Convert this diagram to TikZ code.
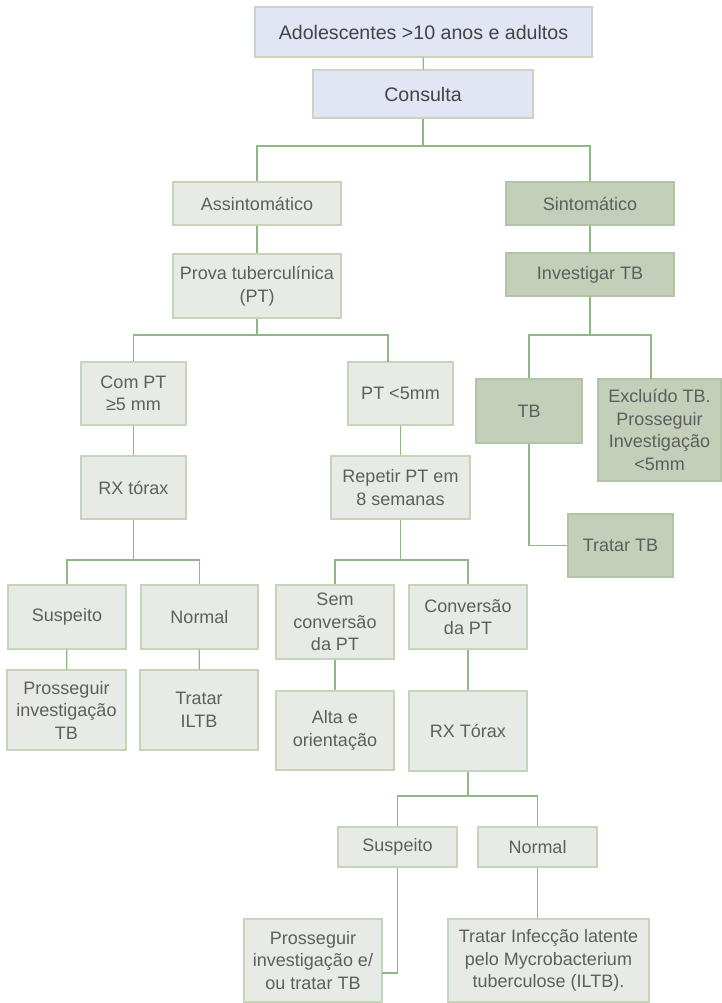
\documentclass[tikz,border=0pt]{standalone}
\usepackage{fontspec}
\setmainfont{Liberation Sans}
\usetikzlibrary{calc}
\definecolor{lavfill}{HTML}{E1E5F4}
\definecolor{lavline}{HTML}{C9D5BF}
\definecolor{palefill}{HTML}{E8EBE5}
\definecolor{paleline}{HTML}{C6D5BA}
\definecolor{sagefill}{HTML}{C3CFB8}
\definecolor{sageline}{HTML}{B3C3A5}
\definecolor{linkgreen}{HTML}{8FB884}
\definecolor{txtdark}{HTML}{444444}
\definecolor{txtgray}{HTML}{5E5E5E}
\begin{document}
\begin{tikzpicture}[x=1pt,y=-1pt,
  basebox/.style={draw, line width=1.3pt, inner sep=0pt, align=center,
    font=\fontsize{18}{22.5}\selectfont},
  topbox/.style={basebox, fill=lavfill, draw=lavline, text=txtdark,
    font=\fontsize{19.6}{23}\selectfont},
  palebox/.style={basebox, fill=palefill, draw=paleline, text=txtgray},
  sagebox/.style={basebox, fill=sagefill, draw=sageline, text=txtgray},
  link/.style={draw=linkgreen, line width=1.3pt}]
\fill[white] (0,0) rectangle (722,1003);
\useasboundingbox (0,0) rectangle (722,1003);

% top of the chart
\node[topbox, minimum width=337, minimum height=50] (adol) at (423.5,32) {Adolescentes >10 anos e adultos};
\node[topbox, minimum width=220, minimum height=48] (cons) at (423,94) {Consulta};

% first split
\node[palebox, minimum width=168, minimum height=43] (assin) at (257,203.5) {Assintomático};
\node[sagebox, minimum width=168, minimum height=43] (sint) at (590,203.5) {Sintomático};
\node[palebox, minimum width=168, minimum height=64] (prova) at (257,286) {Prova tuberculínica\\(PT)};
\node[sagebox, minimum width=168, minimum height=43] (invtb) at (590,274.5) {Investigar TB};

% symptomatic branch
\node[sagebox, minimum width=106, minimum height=64] (tb) at (529,411) {TB};
\node[sagebox, minimum width=123, minimum height=102] (excl) at (659.5,430) {Excluído TB.\\Prosseguir\\Investigação\\<5mm};
\node[sagebox, minimum width=105, minimum height=63] (tratatb) at (620.5,545.5) {Tratar TB};

% tuberculin test results
\node[palebox, minimum width=105, minimum height=63] (compt) at (133.5,393.5) {Com PT\\≥5 mm};
\node[palebox, minimum width=105, minimum height=63] (ptless) at (400.5,393.5) {PT <5mm};
\node[palebox, minimum width=105, minimum height=63] (rxl) at (133.5,487.5) {RX tórax};
\node[palebox, minimum width=139, minimum height=63] (rep) at (400.5,487.5) {Repetir PT em\\8 semanas};

% third level
\node[palebox, minimum width=118, minimum height=64] (susp1) at (67,617) {Suspeito};
\node[palebox, minimum width=117, minimum height=64] (norm1) at (199.5,617) {Normal};
\node[palebox, minimum width=118, minimum height=74] (sem) at (335,622) {Sem\\conversão\\da PT};
\node[palebox, minimum width=118, minimum height=64] (conv) at (468,617) {Conversão\\da PT};

\node[palebox, minimum width=119, minimum height=80] (pros1) at (66.5,710) {Prosseguir\\investigação\\TB};
\node[palebox, minimum width=118, minimum height=80] (iltb) at (199,710) {Tratar\\ILTB};
\node[palebox, minimum width=118, minimum height=79] (alta) at (335,730.5) {Alta e\\orientação};
\node[palebox, minimum width=118, minimum height=80] (rx2) at (468,731) {RX Tórax};

% bottom level
\node[palebox, minimum width=119, minimum height=40] (susp2) at (397.5,847) {Suspeito};
\node[palebox, minimum width=119, minimum height=40] (norm2) at (537.5,847) {Normal};
\node[palebox, minimum width=138, minimum height=83] (pros2) at (313,960.5) {Prosseguir\\investigação e/\\ou tratar TB};
\node[palebox, minimum width=201, minimum height=83] (infec) at (548.5,960.5) {Tratar Infecção latente\\pelo Mycrobacterium\\tuberculose (ILTB).};

% bus points and off-centre ends
\coordinate (b1) at (423,146);
\coordinate (b2) at (257,335);
\coordinate (b3) at (590,335);
\coordinate (ptin) at (388,362);
\coordinate (exin) at (651,379);
\coordinate (b4) at (133.5,560);
\coordinate (b5) at (400.5,560);
\coordinate (b6) at (468,796);
\coordinate (p2in) at (382,973);

\draw[link] (adol) -- (cons);
\draw[link] (cons) -- (b1) -| (assin);
\draw[link] (b1) -| (sint);
\draw[link] (assin) -- (prova);
\draw[link] (sint) -- (invtb);
\draw[link] (prova) -- (b2) -| (compt);
\draw[link] (b2) -| (ptin);
\draw[link] (invtb) -- (b3) -| (tb);
\draw[link] (b3) -| (exin);
\draw[link] (tb) |- (tratatb);
\draw[link] (compt) -- (rxl);
\draw[link] (ptless) -- (rep);
\draw[link] (rxl) -- (b4) -| (susp1);
\draw[link] (b4) -| (norm1);
\draw[link] (rep) -- (b5) -| (sem);
\draw[link] (b5) -| (conv);
\draw[link] (susp1) -- (pros1);
\draw[link] (norm1) -- (iltb);
\draw[link] (sem) -- (alta);
\draw[link] (conv) -- (rx2);
\draw[link] (rx2) -- (b6) -| (susp2);
\draw[link] (b6) -| (norm2);
\draw[link] (susp2) |- (p2in);
\draw[link] (norm2) -- (norm2 |- infec.north);
\end{tikzpicture}
\end{document}
